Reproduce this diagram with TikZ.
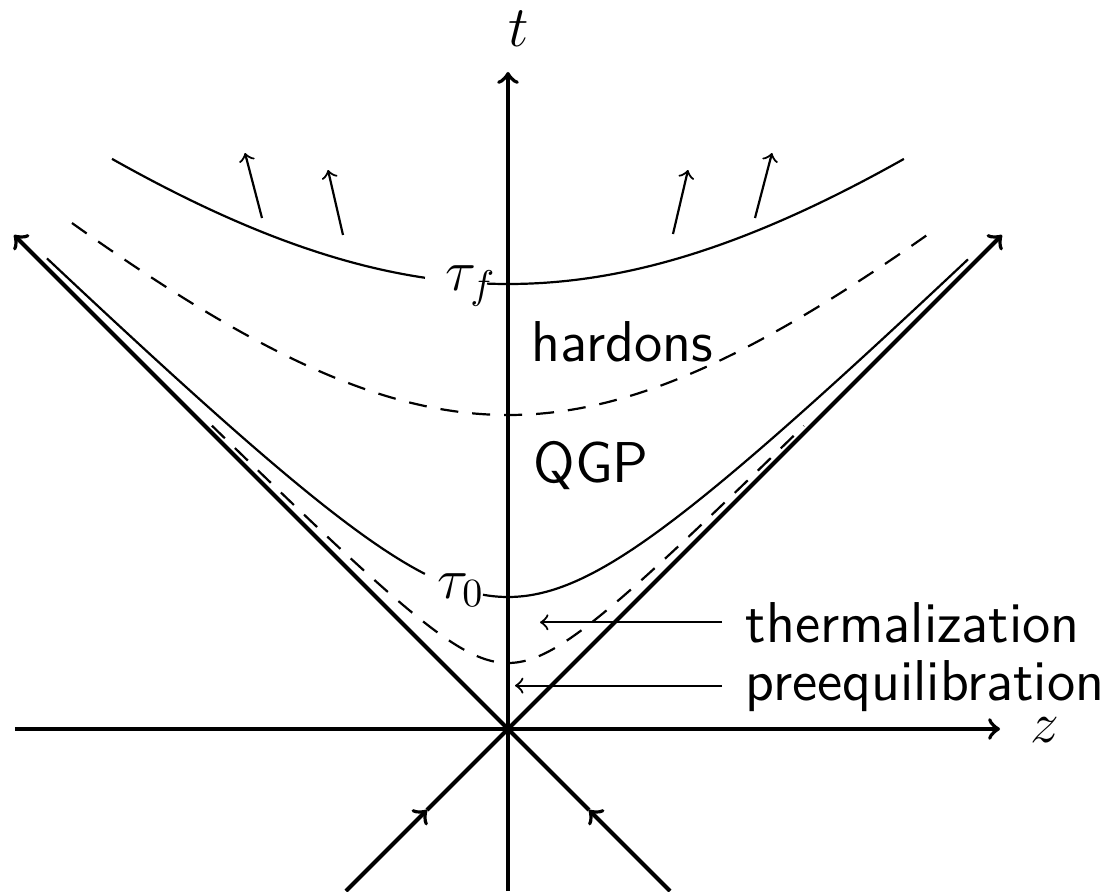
\documentclass[tikz,border=0pt]{standalone}
\begin{document}
\begin{tikzpicture}[x=25pt,y=25pt,
  axis/.style={line width=1pt},
  thinline/.style={line width=0.55pt},
  dashline/.style={line width=0.55pt, dash pattern=on 4.5pt off 3.5pt},
  lab/.style={font=\Large\sffamily, inner ysep=0pt, inner xsep=0pt, anchor=base west},
  mlab/.style={font=\Large, inner sep=0pt, anchor=base west}]
\useasboundingbox (-5.08,-1.62) rectangle (6.07,7.29);
% coordinates
\coordinate (O) at (0,0);
\coordinate (xl) at (-4.93,0);
\coordinate (xr) at (4.92,0);
\coordinate (yb) at (0,-1.62);
\coordinate (yt) at (0,6.57);
\coordinate (lcl) at (-4.94,4.94);
\coordinate (lcr) at (4.94,4.94);
\coordinate (bl) at (-1.62,-1.62);
\coordinate (blm) at (-0.81,-0.81);
\coordinate (br) at (1.62,-1.62);
\coordinate (brm) at (0.81,-0.81);
% axes
\draw[axis,->] (xl) -- (xr);
\draw[axis,->] (yb) -- (yt);
% light cone
\draw[axis,->] (O) -- (lcl);
\draw[axis,->] (O) -- (lcr);
\draw[axis,->] (bl) -- (blm);
\draw[axis] (blm) -- (O);
\draw[axis,->] (br) -- (brm);
\draw[axis] (brm) -- (O);
% hyperbolae
\draw[thinline] plot[domain=-3.96:-0.83, samples=60, smooth] (\x,{sqrt(4.45*4.45+0.81*\x*\x)});
\draw[thinline] plot[domain=-0.21:3.96, samples=60, smooth] (\x,{sqrt(4.45*4.45+0.81*\x*\x)});
\draw[dashline] plot[domain=-4.36:4.24, samples=100, smooth] (\x,{sqrt(3.14*3.14+0.828*\x*\x)});
\draw[thinline] plot[domain=-4.61:-0.83, samples=80, smooth] (\x,{sqrt(1.32*1.32+0.96*\x*\x)});
\draw[thinline] plot[domain=-0.25:4.6, samples=80, smooth] (\x,{sqrt(1.32*1.32+0.96*\x*\x)});
\draw[dashline] plot[domain=-2.96:2.96, samples=100, smooth] (\x,{sqrt(0.66*0.66+\x*\x)});
% flow arrows
\coordinate (a1s) at (-2.46,5.11); \coordinate (a1e) at (-2.63,5.76);
\coordinate (a2s) at (-1.65,4.94); \coordinate (a2e) at (-1.80,5.59);
\coordinate (a3s) at (1.65,4.95);  \coordinate (a3e) at (1.80,5.59);
\coordinate (a4s) at (2.47,5.11);  \coordinate (a4e) at (2.64,5.76);
\draw[thinline,->] (a1s) -- (a1e);
\draw[thinline,->] (a2s) -- (a2e);
\draw[thinline,->] (a3s) -- (a3e);
\draw[thinline,->] (a4s) -- (a4e);
% labels
\node[mlab] (tlab) at (0.0,6.82) {$t$};
\node[mlab] (zlab) at (5.22,-0.13) {$z$};
\node[mlab] (tauf) at (-0.63,4.39) {$\tau_f$};
\node[mlab] (tau0) at (-0.71,1.31) {$\tau_0$};
\node[lab] (had) at (0.23,3.68) {hardons};
\node[lab] (qgp) at (0.25,2.47) {QGP};
\node[lab, inner xsep=5.75pt] (therm) at (2.14,0.87) {thermalization};
\node[lab, inner xsep=5.75pt] (preq) at (2.14,0.29) {preequilibration};
\coordinate (thermend) at (0.32,1.07);
\coordinate (preqend) at (0.07,0.42);
\draw[thinline,->] (therm.west) -- (therm.west -| thermend);
\draw[thinline,->] (preq.west) -- (preq.west -| preqend);
\end{tikzpicture}
\end{document}
